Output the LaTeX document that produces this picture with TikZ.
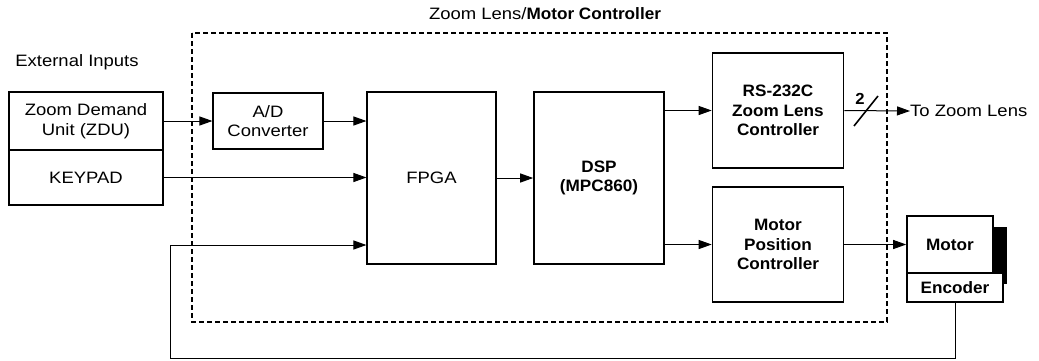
\documentclass[tikz,border=0pt]{standalone}
\usepackage{fontspec}
\setmainfont{Liberation Sans}[FakeStretch=1.12,BoldFeatures={FakeStretch=1.04}]
\usetikzlibrary{positioning,arrows.meta}

\begin{document}
\begin{tikzpicture}[x=1pt, y=-1pt,
      font=\fontsize{16.5}{19.5}\selectfont,
      box/.style={draw, line width=1.1pt, align=center, inner sep=0pt},
      blk/.style={box, line width=1.6pt,
      font=\fontsize{16.5}{19.5}\selectfont\bfseries},
      arr/.style={-{Triangle[length=13pt,width=9pt]}, line width=1pt},
      frame/.style={draw, line width=1.1pt, dash pattern=on 5pt off 3pt},
    ]
    \useasboundingbox (0,0) rectangle (1039,360);

    % controller frame
    \draw[frame] (192,33) rectangle (887,322);
    \node (title) at (545,14) {Zoom Lens/\textbf{Motor Controller}};
    \node (ext) at (77,62) {External Inputs};

    % inputs
    \node[box, minimum width=154pt, minimum height=58pt] (zdu) at (86,121) {Zoom Demand\\Unit (ZDU)};
    \node[box, minimum width=154pt, minimum height=55pt] (key) at (86,177.5) {KEYPAD};

    \node[box, minimum width=110pt, minimum height=56pt] (adc) at (268,121) {A/D\\Converter};
    \node[box, minimum width=129pt, minimum height=172pt] (fpga) at (431.5,178) {FPGA};
    \node[blk, minimum width=130pt, minimum height=172pt] (dsp) at (599,178) {DSP\\(MPC860)};
    \node[blk, minimum width=131pt, minimum height=115pt] (rs) at (778,110.5) {RS-232C\\Zoom Lens\\Controller};
    \node[blk, minimum width=131pt, minimum height=115pt] (mpc) at (778,244.5) {Motor\\Position\\Controller};

    % motor with shadow
    \fill (979,227) rectangle (1007,284);
    \node[blk, fill=white, minimum width=86pt, minimum height=57pt] (mot) at (950,244.5) {Motor};
    \node[blk, fill=white, minimum width=96pt, minimum height=29pt] (enc) at (955,287.5) {Encoder};

    \node[anchor=west, inner sep=0pt] (tzl) at (910,111) {To Zoom Lens};

    % signals
    \draw[arr] (zdu.east) -- (zdu.east -| adc.west);
    \draw[arr] (adc.east) -- (adc.east -| fpga.west);
    \draw[arr] (key.east) -- (key.east -| fpga.west);
    \draw[arr] (fpga.east) -- (dsp.west);
    \draw[arr] (dsp.east |- rs.west) -- (rs.west);
    \draw[arr] (dsp.east |- mpc.west) -- (mpc.west);
    \draw[arr] (rs.east) -- (tzl.west);
    \draw[arr] (mpc.east) -- (mot.west);

    % bus width mark
    \coordinate (bus) at (866,111);
    \draw[line width=1.6pt] (bus) ++(-12,15) -- ++(24,-30);
    \node[font=\fontsize{16}{18}\selectfont\bfseries] (bw) at (860,99) {2};

    % feedback
    \coordinate (fb) at (170,245);
    \draw[arr] (enc.south) -- ++(0,56) -| (fb) -- (fb -| fpga.west);
  \end{tikzpicture}
\end{document}
